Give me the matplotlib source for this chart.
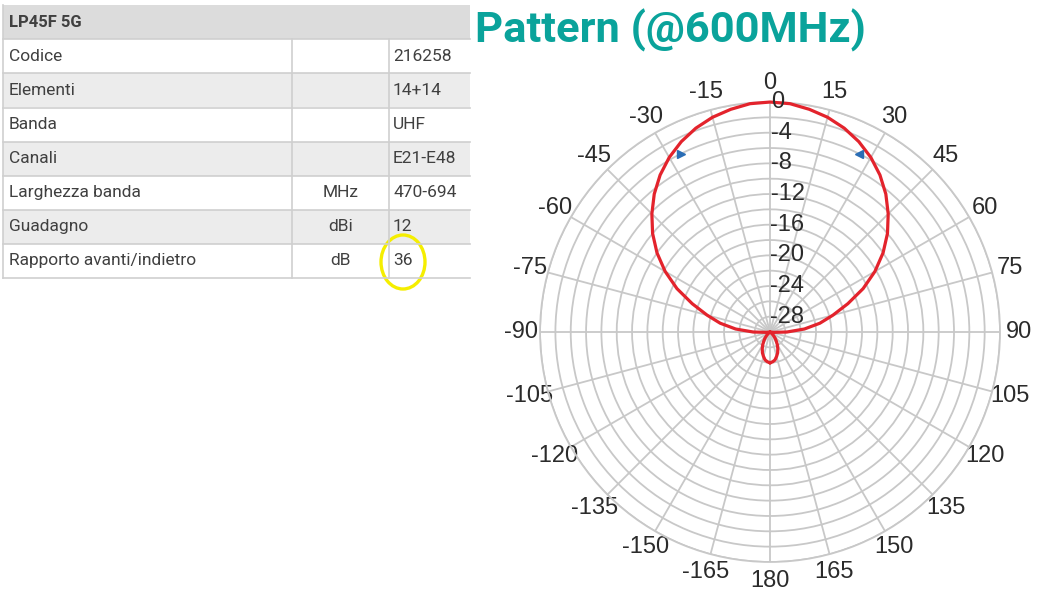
import numpy as np
import matplotlib
matplotlib.use('Agg')
import matplotlib.pyplot as plt
from matplotlib.patches import Rectangle, Ellipse

# table data
titolo = 'LP45F 5G'
voci = ['Codice', 'Elementi', 'Banda', 'Canali', 'Larghezza banda', 'Guadagno', 'Rapporto avanti/indietro']
unita = ['', '', '', '', 'MHz', 'dBi', 'dB']
valori = ['216258', '14+14', 'UHF', 'E21-E48', '470-694', '12', '36']

# pattern (half, symmetric) : angle in degrees, level in dB
angoli = [0, 5, 10, 15, 20, 25, 30, 35, 40, 45, 50, 55, 60, 65, 70, 75, 80, 85, 90,
          95, 100, 105, 110, 115, 120, 125, 130, 135, 140, 145, 150, 155, 160, 165, 170, 175, 180]
livelli = [0.0, -0.1, -0.5, -1.0, -1.7, -2.6, -3.7, -5.0, -6.5, -8.2, -10.0, -12.0, -14.2, -16.6,
           -19.2, -21.5, -23.4, -25.5, -27.8,
           -29.5, -30, -30, -30, -30, -30, -30, -29.7, -29.4, -29.0, -28.6, -28.1, -27.6, -27.1,
           -26.7, -26.3, -26.1, -26.0]
# -3 dB beamwidth markers
marker_ang = [-26.5, 26.5]
marker_db = [-4.1, -4.1]

r_ticks = list(range(-28, 1, 2))
r_labels = [0, -4, -8, -12, -16, -20, -24, -28]
theta_ticks = list(range(0, 360, 15))

fig = plt.figure(figsize=(10.56, 5.95), dpi=100)

# ---- table on the left, pixel coordinates
bg = fig.add_axes([0, 0, 1, 1])
bg.set_xlim(0, 1056)
bg.set_ylim(595, 0)
bg.axis('off')

x0, x1, xu, xv = 3, 470, 292, 389
top, hh, rh = 5, 34.3, 34.1
line_c = '#cfcfcf'
txt_c = '#404040'
bg.add_patch(Rectangle((x0, top), x1 - x0, hh, fc='#dcdcdc', ec='none'))
bg.text(9, top + hh / 2, titolo, fontsize=12, fontweight='bold', color=txt_c,
        family='Roboto', va='center', ha='left')
y = top + hh
for i in range(len(voci)):
    fc = '#ececec' if i % 2 == 1 else 'white'
    bg.add_patch(Rectangle((x0, y), x1 - x0, rh, fc=fc, ec='none'))
    bg.plot([x0, x1], [y, y], color=line_c, lw=1.2)
    bg.text(9, y + rh / 2, voci[i], fontsize=12.5, color=txt_c, family='Roboto', va='center', ha='left')
    bg.text((xu + xv) / 2, y + rh / 2, unita[i], fontsize=12.5, color=txt_c, family='Roboto',
            va='center', ha='center')
    bg.text(393, y + rh / 2, valori[i], fontsize=12.5, color=txt_c, family='Roboto', va='center', ha='left')
    y += rh
bg.plot([x0, x1], [y, y], color=line_c, lw=1.2)
bg.plot([x0, x0], [top, y], color=line_c, lw=1.2)
bg.plot([xu, xu], [top + hh, y], color=line_c, lw=1.2)
bg.plot([xv, xv], [top + hh, y], color=line_c, lw=1.2)
bg.add_patch(Ellipse((403, 262), 44, 54, fill=False, ec='#f5ee00', lw=2.4))

bg.text(475, 30, 'Pattern (@600MHz)', fontsize=31.3, fontweight='bold', color='#0aa39b',
        family='Roboto', va='center', ha='left')

# ---- polar pattern
ax = fig.add_axes([0.5114, 0.0555, 0.4356, 0.773], projection='polar')
ax.set_theta_zero_location('N')
ax.set_theta_direction(-1)
ax.set_ylim(-30, 0)

th = np.deg2rad(angoli)
ax.plot(np.concatenate([-th[::-1], th[1:]]), livelli[::-1] + livelli[1:],
        color='#e3232c', lw=2.3, clip_on=False, zorder=5)
ax.plot(np.deg2rad(marker_ang[0]), marker_db[0], marker='>', color='#2a6db5', ms=6, ls='none', zorder=6)
ax.plot(np.deg2rad(marker_ang[1]), marker_db[1], marker='<', color='#2a6db5', ms=6, ls='none', zorder=6)

ax.set_xticks(np.deg2rad(theta_ticks))
ax.set_xticklabels([str(a if a <= 180 else a - 360) for a in theta_ticks],
                   fontsize=17, color='#2b2b2b', family='Liberation Sans')
ax.tick_params(axis='x', pad=3)
ax.set_yticks(r_ticks)
ax.set_yticklabels([])
ax.grid(True, color='#c8c8c8', lw=1.3)
ax.spines['polar'].set_color('#c8c8c8')
ax.spines['polar'].set_linewidth(1.3)
for v in r_labels:
    ax.text(0.004, v, str(v), fontsize=17, color='#2b2b2b', family='Liberation Sans',
            ha='left', va='center', zorder=7)

fig.savefig('out.png', dpi=100)
